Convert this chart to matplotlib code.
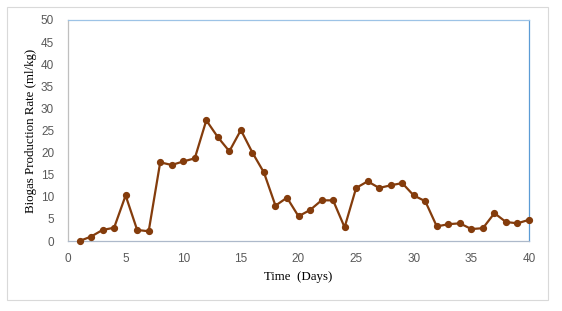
import matplotlib.pyplot as plt
from matplotlib.patches import Rectangle

days = list(range(1, 41))
rate = [0, 1, 2.5, 3, 10.3, 2.5, 2.2, 17.8, 17.2, 18,
        18.7, 27.3, 23.5, 20.3, 25.1, 20, 15.5, 8, 9.8, 5.6,
        7, 9.2, 9.2, 3.1, 12, 13.5, 12, 12.6, 13.1, 10.3,
        9, 3.3, 3.8, 4, 2.7, 2.9, 6.3, 4.3, 4, 4.8]

xticks = [0, 5, 10, 15, 20, 25, 30, 35, 40]
yticks = [0, 5, 10, 15, 20, 25, 30, 35, 40, 45, 50]

fig = plt.figure(figsize=(5.62, 3.11), dpi=100)
ax = fig.add_axes([68 / 562, 1 - 241 / 311, (529 - 68) / 562, (241 - 20) / 311])

# outer chart border
fig.patches.append(Rectangle((7 / 562, 1 - 300 / 311), 541 / 562, 293 / 311,
                             transform=fig.transFigure, fill=False,
                             edgecolor="#d9d9d9", linewidth=0.8))

ax.plot(days, rate, color="#843c0c", linewidth=1.6, marker="o",
        markersize=4.2, clip_on=False, zorder=3)

ax.set_xlim(0, 40)
ax.set_ylim(0, 50)
ax.set_xticks(xticks)
ax.set_yticks(yticks)
ax.tick_params(length=0, labelsize=8.5, labelcolor="#595959",
               labelfontfamily="Liberation Sans")
ax.tick_params(axis="y", pad=10)
ax.tick_params(axis="x", pad=9)

ax.spines["top"].set_color("#9dc3e6")
ax.spines["right"].set_color("#5b9bd5")
ax.spines["left"].set_color("#bfbfbf")
ax.spines["bottom"].set_color("#adb9ca")
for s in ax.spines.values():
    s.set_linewidth(0.9)

ax.set_xlabel("Time  (Days)", fontfamily="Liberation Serif", fontsize=9.3, labelpad=4)
ax.set_ylabel("Biogas Production Rate (ml/kg)", fontfamily="Liberation Serif",
              fontsize=9.3, labelpad=3)

fig.savefig("out.png", dpi=100)
